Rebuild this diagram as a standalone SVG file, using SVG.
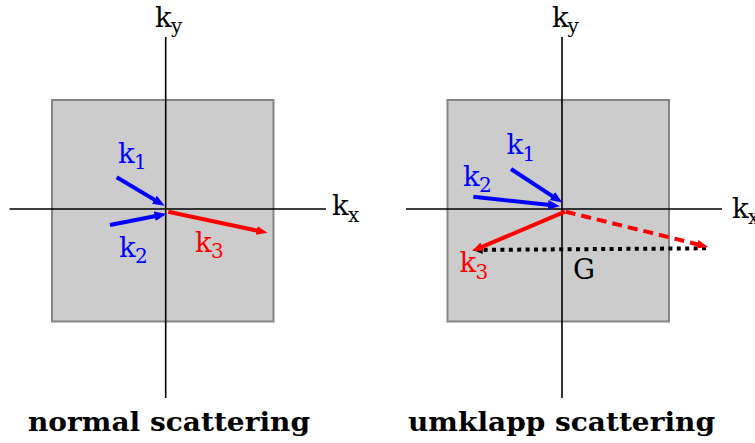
<svg xmlns="http://www.w3.org/2000/svg" width="755" height="443" viewBox="0 0 755 443">
<style>
.box{fill:#cccccc;stroke:#858585;stroke-width:2}
.axis{stroke:#000;stroke-width:1.6;fill:none}
.lbl{font-family:"DejaVu Serif","Liberation Serif",serif;font-size:27.5px}
.sub{font-size:20px}
.blue{fill:#0000ff}
.red{fill:#ff0000}
.blk{fill:#000}
.title{font-family:"DejaVu Serif","Liberation Serif",serif;font-size:26px;font-weight:bold;fill:#000}
.ab{stroke:#0000ff;stroke-width:4;fill:none;marker-end:url(#hb)}
.ar{stroke:#ff0000;stroke-width:4;fill:none;marker-end:url(#hr)}
.ard{stroke:#ff0000;stroke-width:4;fill:none;stroke-dasharray:10 6;marker-end:url(#hr)}
.akd{stroke:#000;stroke-width:4;fill:none;stroke-dasharray:4 4.4;marker-end:url(#hk)}
</style>
<defs>
<marker id="hb" markerUnits="userSpaceOnUse" markerWidth="12" markerHeight="10" refX="2" refY="4" orient="auto" viewBox="0 0 10 8"><path d="M0,0 L10,4 L0,8 z" fill="#0000ff"/></marker>
<marker id="hr" markerUnits="userSpaceOnUse" markerWidth="11" markerHeight="9" refX="2" refY="4" orient="auto" viewBox="0 0 10 8"><path d="M0,0 L10,4 L0,8 z" fill="#ff0000"/></marker>
<marker id="hk" markerUnits="userSpaceOnUse" markerWidth="10" markerHeight="8" refX="2" refY="4" orient="auto" viewBox="0 0 10 8"><path d="M0,0 L10,4 L0,8 z" fill="#000"/></marker>
</defs>
<rect width="755" height="443" fill="#fff"/>

<g id="panel-normal">
<rect class="box" x="52" y="100" width="221.5" height="221.5"/>
<line class="axis" x1="165.7" y1="37" x2="165.7" y2="398"/>
<line class="axis" x1="9.5" y1="209" x2="326" y2="209"/>
<text class="lbl blk" x="155" y="27">k<tspan class="sub" x="171" y="33">y</tspan></text>
<text class="lbl blk" x="332" y="215">k<tspan class="sub" x="348" y="221.5">x</tspan></text>
<text class="title" x="28" y="431" textLength="282" lengthAdjust="spacingAndGlyphs">normal scattering</text>
</g>

<g id="panel-umklapp">
<rect class="box" x="447.5" y="100" width="221.5" height="221.5"/>
<line class="axis" x1="562" y1="37" x2="562" y2="398"/>
<line class="axis" x1="406" y1="209" x2="722" y2="209"/>
<text class="lbl blk" x="552" y="27">k<tspan class="sub" x="567.5" y="33">y</tspan></text>
<text class="lbl blk" x="732" y="217.5">k<tspan class="sub" x="748" y="224">x</tspan></text>
<text class="title" x="408" y="431" textLength="307" lengthAdjust="spacingAndGlyphs">umklapp scattering</text>
</g>

<g id="connectors">
<line class="ab" x1="116.7" y1="177.3" x2="156.4" y2="200.9"/>
<line class="ab" x1="110" y1="225" x2="157.1" y2="215.8"/>
<line class="ar" x1="168.3" y1="211.7" x2="258.9" y2="231"/>
<line class="ab" x1="511" y1="169" x2="554.3" y2="197.3"/>
<line class="ab" x1="473.3" y1="196.7" x2="550.4" y2="205.1"/>
<line class="akd" x1="706" y1="248.3" x2="480.7" y2="249.9"/>
<line class="ar" x1="565" y1="211.7" x2="480.1" y2="247.6"/>
<line class="ard" x1="565.7" y1="211.7" x2="699.5" y2="244.8"/>
</g>

<g id="labels">
<text class="lbl blue" x="118" y="162.5">k<tspan class="sub" x="134" y="168.5">1</tspan></text>
<text class="lbl blue" x="119" y="257">k<tspan class="sub" x="135" y="263">2</tspan></text>
<text class="lbl red" x="195" y="252">k<tspan class="sub" x="211" y="258">3</tspan></text>
<text class="lbl blue" x="506.5" y="154">k<tspan class="sub" x="522.5" y="160.5">1</tspan></text>
<text class="lbl blue" x="463" y="185.5">k<tspan class="sub" x="479" y="192">2</tspan></text>
<text class="lbl red" x="459.5" y="272">k<tspan class="sub" x="475.5" y="279">3</tspan></text>
<text class="lbl blk" x="573" y="278.5">G</text>
</g>
</svg>
